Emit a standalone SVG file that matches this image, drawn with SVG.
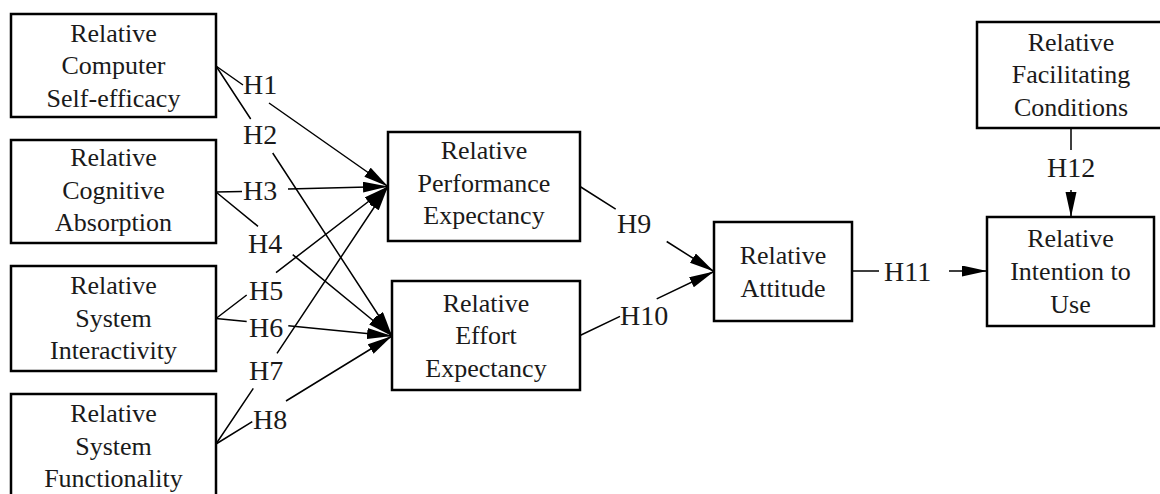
<svg xmlns="http://www.w3.org/2000/svg" width="1160" height="494" viewBox="0 0 1160 494">
<style>
.box{fill:#fff;stroke:#000;stroke-width:2.5}
.t{font-family:'Liberation Serif','Times New Roman',serif;font-size:26px;fill:#1a1a1a;text-anchor:middle}
.lbl{font-family:'Liberation Serif','Times New Roman',serif;font-size:28px;fill:#1a1a1a}
.c{fill:none;stroke:#000;stroke-width:1.5}
</style>
<defs>
<marker id="arr" markerUnits="userSpaceOnUse" markerWidth="26" markerHeight="12" refX="25" refY="5.5" orient="auto">
<path d="M0,0 L25,5.5 L0,11 z" fill="#000"/>
</marker>
</defs>
<rect width="1160" height="494" fill="#fff"/>
<g id="connectors">
<path class="c" d="M216,66 L243,85 M269,103 L388,186.5" marker-end="url(#arr)"/>
<path class="c" d="M216,66 L250.7,119 M272.7,153 L392,336" marker-end="url(#arr)"/>
<path class="c" d="M216,192 L242,191.5 M288,189 L388,186.5" marker-end="url(#arr)"/>
<path class="c" d="M216,192 L258,226.3 M292.7,254.7 L392,336" marker-end="url(#arr)"/>
<path class="c" d="M216,318.5 L246.7,295 M276,272.6 L388,186.5" marker-end="url(#arr)"/>
<path class="c" d="M216,318.5 L246.7,321.5 M288.3,325.7 L392,336" marker-end="url(#arr)"/>
<path class="c" d="M216,444 L253.3,388.3 M277,353.3 L388,186.5" marker-end="url(#arr)"/>
<path class="c" d="M216,444 L252.3,421.7 M286,401 L392,336" marker-end="url(#arr)"/>
<path class="c" d="M580,186.5 L615.7,209.1 M666.7,241.5 L714,271.5" marker-end="url(#arr)"/>
<path class="c" d="M580,335.5 L620,316.4 M656.7,298.9 L714,271.5" marker-end="url(#arr)"/>
<path class="c" d="M852,271 L879,271 M949,271 L987,271" marker-end="url(#arr)"/>
<path class="c" d="M1071,128 L1071,150 M1071,190 L1071,217" marker-end="url(#arr)"/>
<text class="lbl" x="243" y="94">H1</text>
<text class="lbl" x="243" y="144">H2</text>
<text class="lbl" x="243" y="200">H3</text>
<text class="lbl" x="248" y="253">H4</text>
<text class="lbl" x="249" y="300">H5</text>
<text class="lbl" x="249" y="337">H6</text>
<text class="lbl" x="249" y="380">H7</text>
<text class="lbl" x="253" y="429">H8</text>
<text class="lbl" x="617" y="233">H9</text>
<text class="lbl" x="620" y="325">H10</text>
<text class="lbl" x="884" y="281">H11</text>
<text class="lbl" x="1047" y="177">H12</text>
</g>
<g id="n1">
<rect class="box" x="11" y="14" width="205" height="103"/>
<text class="t" x="113.5" y="42">Relative</text>
<text class="t" x="113.5" y="74">Computer</text>
<text class="t" x="113.5" y="107">Self-efficacy</text>
</g>
<g id="n2">
<rect class="box" x="11" y="140" width="205" height="103"/>
<text class="t" x="113.5" y="166">Relative</text>
<text class="t" x="113.5" y="199">Cognitive</text>
<text class="t" x="113.5" y="231">Absorption</text>
</g>
<g id="n3">
<rect class="box" x="11" y="266" width="205" height="105"/>
<text class="t" x="113.5" y="294">Relative</text>
<text class="t" x="113.5" y="327">System</text>
<text class="t" x="113.5" y="359">Interactivity</text>
</g>
<g id="n4">
<rect class="box" x="11" y="394" width="205" height="104"/>
<text class="t" x="113.5" y="422">Relative</text>
<text class="t" x="113.5" y="455">System</text>
<text class="t" x="113.5" y="487">Functionality</text>
</g>
<g id="n5">
<rect class="box" x="388" y="132" width="192" height="109"/>
<text class="t" x="484" y="159">Relative</text>
<text class="t" x="484" y="192">Performance</text>
<text class="t" x="484" y="224">Expectancy</text>
</g>
<g id="n6">
<rect class="box" x="392" y="281" width="188" height="109"/>
<text class="t" x="486" y="312">Relative</text>
<text class="t" x="486" y="344">Effort</text>
<text class="t" x="486" y="377">Expectancy</text>
</g>
<g id="n7">
<rect class="box" x="714" y="222" width="138" height="99"/>
<text class="t" x="783" y="264">Relative</text>
<text class="t" x="783" y="297">Attitude</text>
</g>
<g id="n8">
<rect class="box" x="987" y="217" width="167" height="109"/>
<text class="t" x="1070.5" y="247">Relative</text>
<text class="t" x="1070.5" y="280">Intention to</text>
<text class="t" x="1070.5" y="313">Use</text>
</g>
<g id="n9">
<rect class="box" x="977" y="22" width="188" height="106"/>
<text class="t" x="1071" y="51">Relative</text>
<text class="t" x="1071" y="83">Facilitating</text>
<text class="t" x="1071" y="116">Conditions</text>
</g>
</svg>
